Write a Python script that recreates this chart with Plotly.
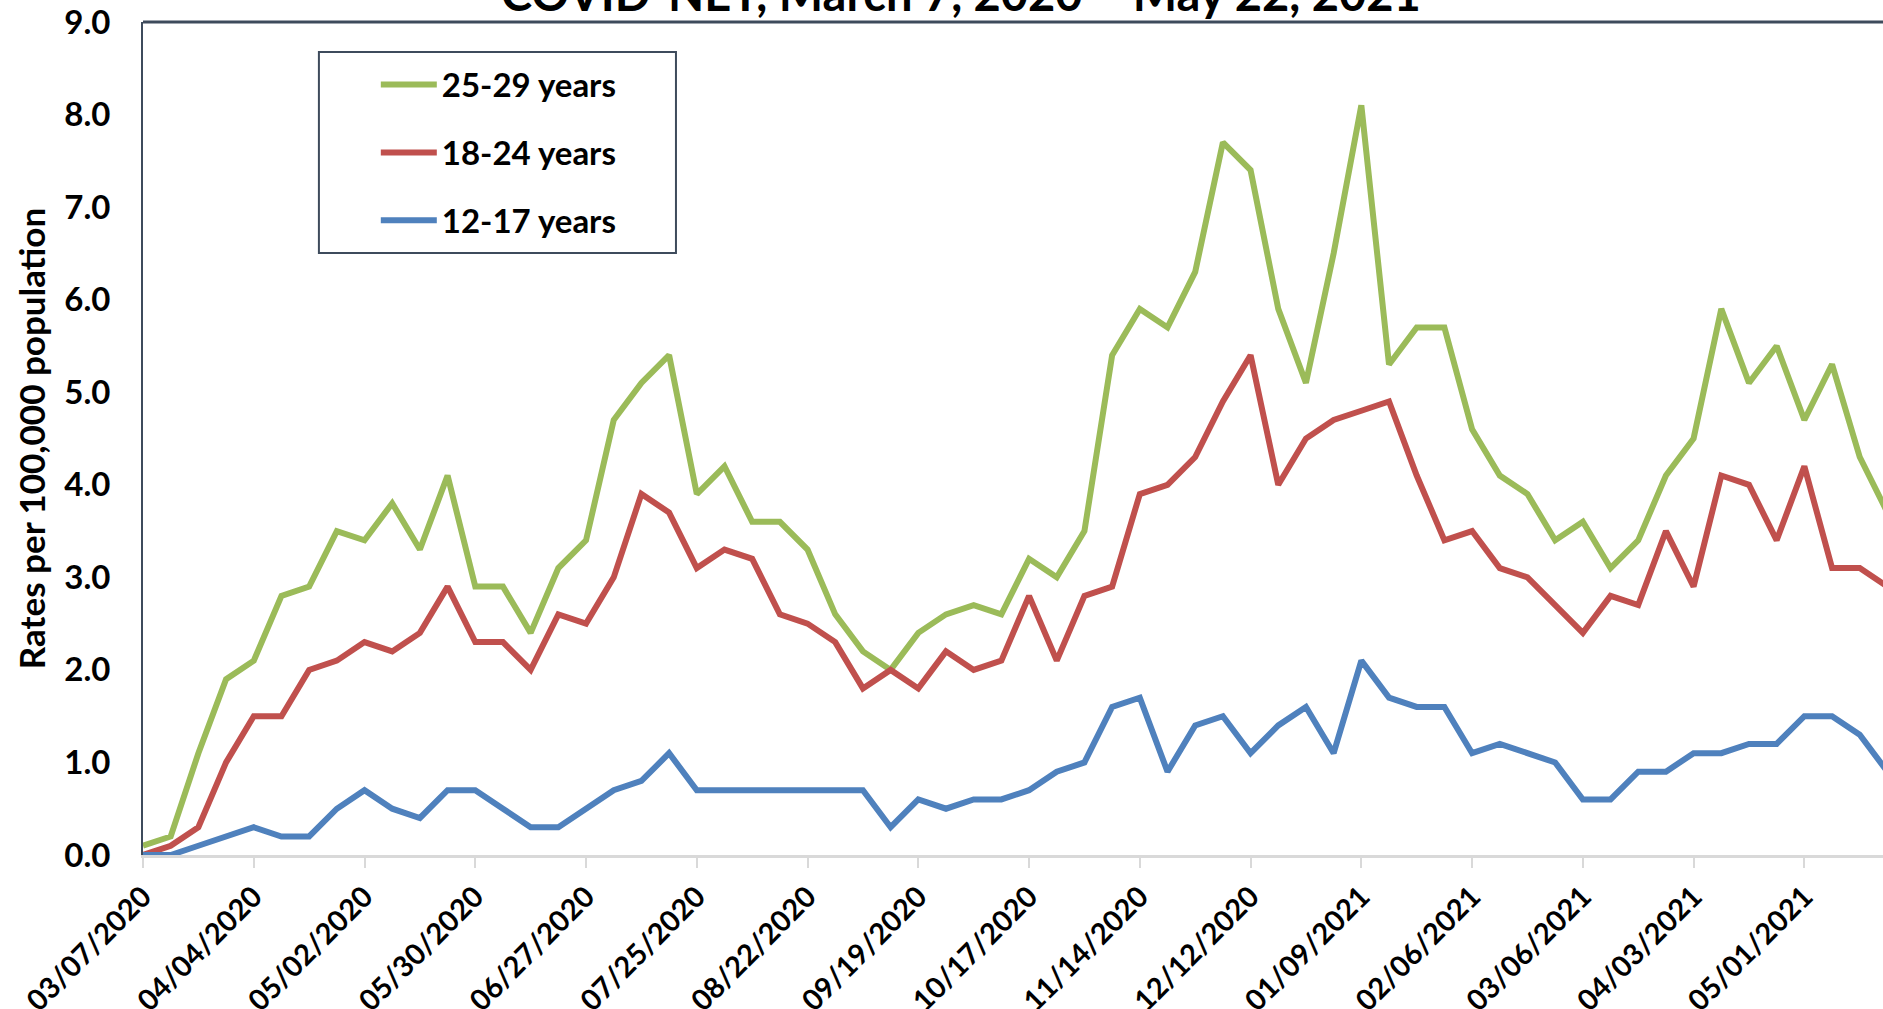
import plotly.graph_objects as go

dates = [
    "03/07/2020", "03/14/2020", "03/21/2020", "03/28/2020",
    "04/04/2020", "04/11/2020", "04/18/2020", "04/25/2020",
    "05/02/2020", "05/09/2020", "05/16/2020", "05/23/2020", "05/30/2020",
    "06/06/2020", "06/13/2020", "06/20/2020", "06/27/2020",
    "07/04/2020", "07/11/2020", "07/18/2020", "07/25/2020",
    "08/01/2020", "08/08/2020", "08/15/2020", "08/22/2020", "08/29/2020",
    "09/05/2020", "09/12/2020", "09/19/2020", "09/26/2020",
    "10/03/2020", "10/10/2020", "10/17/2020", "10/24/2020", "10/31/2020",
    "11/07/2020", "11/14/2020", "11/21/2020", "11/28/2020",
    "12/05/2020", "12/12/2020", "12/19/2020", "12/26/2020",
    "01/02/2021", "01/09/2021", "01/16/2021", "01/23/2021", "01/30/2021",
    "02/06/2021", "02/13/2021", "02/20/2021", "02/27/2021",
    "03/06/2021", "03/13/2021", "03/20/2021", "03/27/2021",
    "04/03/2021", "04/10/2021", "04/17/2021", "04/24/2021",
    "05/01/2021", "05/08/2021", "05/15/2021", "05/22/2021",
]

tick_labels = [
    "03/07/2020", "04/04/2020", "05/02/2020", "05/30/2020", "06/27/2020",
    "07/25/2020", "08/22/2020", "09/19/2020", "10/17/2020", "11/14/2020",
    "12/12/2020", "01/09/2021", "02/06/2021", "03/06/2021", "04/03/2021",
    "05/01/2021",
]

rate_25_29 = [
    0.1, 0.2, 1.1, 1.9, 2.1, 2.8, 2.9, 3.5, 3.4, 3.8, 3.3, 4.1, 2.9,
    2.9, 2.4, 3.1, 3.4, 4.7, 5.1, 5.4, 3.9, 4.2, 3.6, 3.6, 3.3, 2.6,
    2.2, 2.0, 2.4, 2.6, 2.7, 2.6, 3.2, 3.0, 3.5, 5.4, 5.9, 5.7, 6.3,
    7.7, 7.4, 5.9, 5.1, 6.5, 8.1, 5.3, 5.7, 5.7, 4.6, 4.1, 3.9, 3.4,
    3.6, 3.1, 3.4, 4.1, 4.5, 5.9, 5.1, 5.5, 4.7, 5.3, 4.3, 3.7,
]

rate_18_24 = [
    0.0, 0.1, 0.3, 1.0, 1.5, 1.5, 2.0, 2.1, 2.3, 2.2, 2.4, 2.9, 2.3,
    2.3, 2.0, 2.6, 2.5, 3.0, 3.9, 3.7, 3.1, 3.3, 3.2, 2.6, 2.5, 2.3,
    1.8, 2.0, 1.8, 2.2, 2.0, 2.1, 2.8, 2.1, 2.8, 2.9, 3.9, 4.0, 4.3,
    4.9, 5.4, 4.0, 4.5, 4.7, 4.8, 4.9, 4.1, 3.4, 3.5, 3.1, 3.0, 2.7,
    2.4, 2.8, 2.7, 3.5, 2.9, 4.1, 4.0, 3.4, 4.2, 3.1, 3.1, 2.9,
]

rate_12_17 = [
    0.0, 0.0, 0.1, 0.2, 0.3, 0.2, 0.2, 0.5, 0.7, 0.5, 0.4, 0.7, 0.7,
    0.5, 0.3, 0.3, 0.5, 0.7, 0.8, 1.1, 0.7, 0.7, 0.7, 0.7, 0.7, 0.7,
    0.7, 0.3, 0.6, 0.5, 0.6, 0.6, 0.7, 0.9, 1.0, 1.6, 1.7, 0.9, 1.4,
    1.5, 1.1, 1.4, 1.6, 1.1, 2.1, 1.7, 1.6, 1.6, 1.1, 1.2, 1.1, 1.0,
    0.6, 0.6, 0.9, 0.9, 1.1, 1.1, 1.2, 1.2, 1.5, 1.5, 1.3, 0.9,
]

series = [
    ("25-29 years", rate_25_29, "#9BBB59"),
    ("18-24 years", rate_18_24, "#C0504D"),
    ("12-17 years", rate_12_17, "#4F81BD"),
]

FONT = "Lato"
DARK = "#3E4B5C"

fig = go.Figure()
for name, vals, color in series:
    fig.add_trace(go.Scatter(
        x=dates, y=vals, mode="lines", name=name, legendgroup=name,
        line=dict(color=color, width=6),
    ))

W, H = 1883, 1009
ML, MT, MB = 143, 22, 154

fig.update_layout(
    width=W, height=H,
    margin=dict(l=ML, r=0, t=MT, b=MB, pad=0, autoexpand=False),
    paper_bgcolor="white", plot_bgcolor="white",
    font=dict(family=FONT, color="black"),
    showlegend=True,
    legend=dict(
        x=0.1338, y=0.9585, xanchor="left", yanchor="top",
        bgcolor="rgba(0,0,0,0)", borderwidth=0,
        font=dict(family=FONT, size=33, color="black", weight="bold"),
        traceorder="grouped", tracegroupgap=22, itemwidth=56,
    ),
    xaxis=dict(
        type="category", categoryorder="array", categoryarray=dates,
        range=[0, 62.84], automargin=False,
        tickmode="array", tickvals=tick_labels, ticktext=tick_labels,
        tickangle=-45,
        tickfont=dict(family=FONT, size=29, color="black", weight="bold"),
        showline=True, linecolor="#D9D9D9", linewidth=3,
        ticks="outside", ticklen=10, tickwidth=2, tickcolor="#D9D9D9",
        showgrid=False, zeroline=False,
    ),
    yaxis=dict(
        range=[0, 9], dtick=1, tickformat=".1f", automargin=False,
        tickfont=dict(family=FONT, size=33, color="black", weight="bold"),
        showline=True, linecolor=DARK, linewidth=2,
        ticks="", ticklabelstandoff=24,
        showgrid=False, zeroline=False,
        title=dict(text="Rates per 100,000 population",
                   font=dict(family=FONT, size=35, color="black", weight="bold"),
                   standoff=8),
    ),
    shapes=[
        dict(type="line", xref="paper", yref="paper", x0=0, x1=1, y0=1, y1=1,
             line=dict(color=DARK, width=3)),
        dict(type="rect", xref="paper", yref="paper",
             x0=0.1011, x1=0.3063, y0=0.7227, y1=0.9640,
             line=dict(color=DARK, width=2), fillcolor="rgba(0,0,0,0)"),
    ],
    annotations=[
        dict(text="COVID-NET, March 7, 2020 \u2013 May 22, 2021",
             xref="paper", yref="paper", x=(961 - ML) / (W - ML), y=1.0,
             xanchor="center", yanchor="bottom", yshift=-1,
             showarrow=False,
             font=dict(family=FONT, size=47, color="black", weight="bold")),
    ],
)

fig.write_html("out.html", config={"displayModeBar": False},
               post_script="document.body.style.margin='0';document.body.style.overflow='hidden';")
